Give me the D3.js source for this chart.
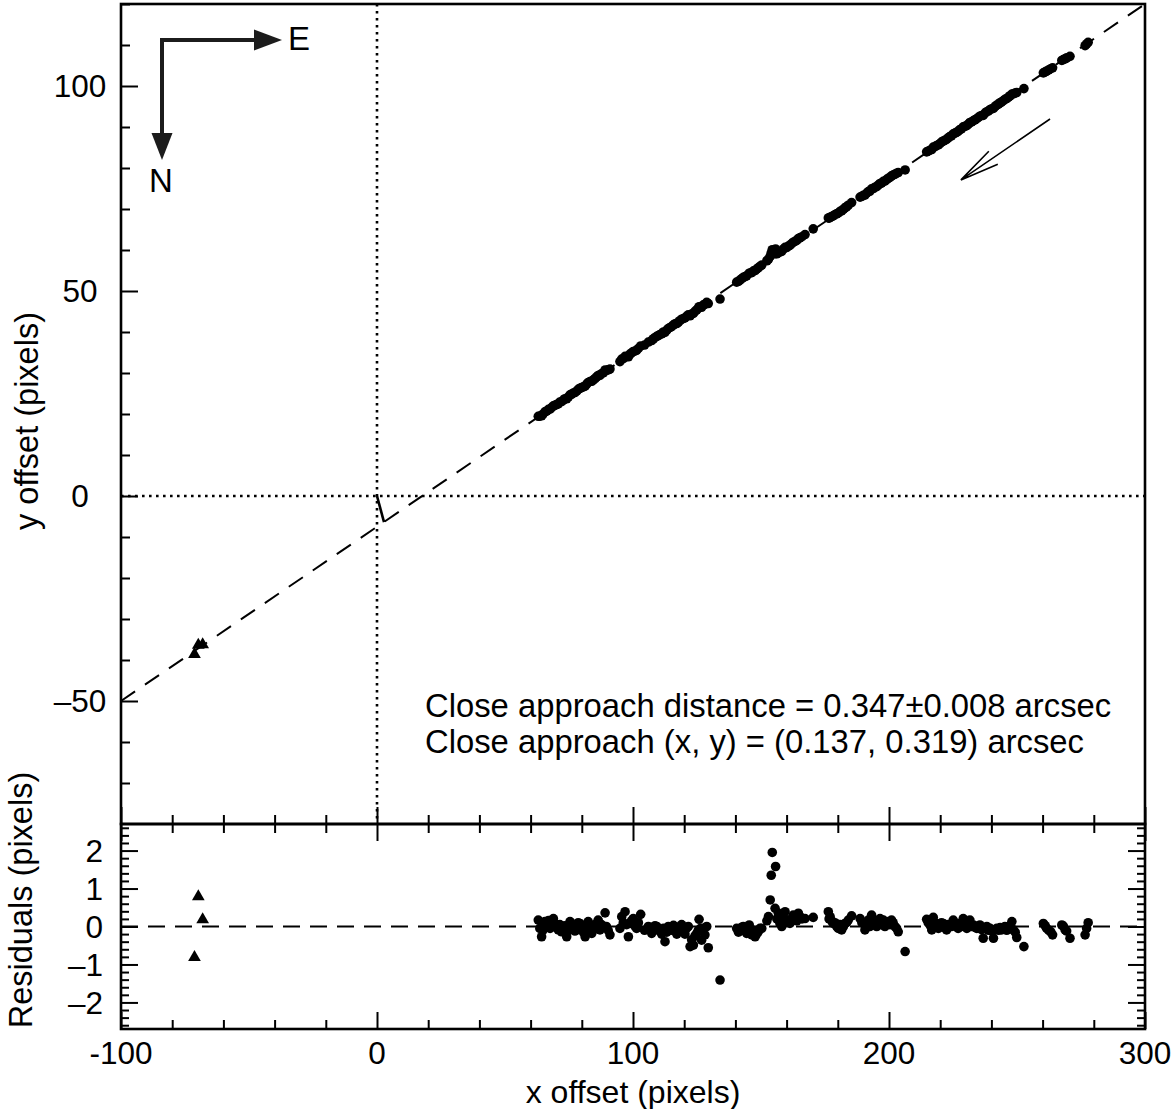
<!DOCTYPE html>
<html>
<head>
<meta charset="utf-8">
<script src="https://cdn.jsdelivr.net/npm/d3@7"></script>
<style>
  body { margin: 0; background: #fff; }
  svg text { font-family: "Liberation Sans", Arial, Helvetica, sans-serif; fill: #000; }
</style>
</head>
<body>
<svg id="chart"></svg>
<script>
const width = 1176, height = 1109;

// fitted track: y = slope * x + intercept (pixels)
const fitSlope = 0.425;
const fitIntercept = -7.5;
const closeApproach = [2.74, -6.38]; // foot of perpendicular from the origin

// circles: x offset and residual (pixels)
const dotX = [
  63.0, 63.6, 64.3, 64.8, 65.6, 66.3, 67.0, 67.6, 68.3, 68.9, 69.5, 70.2, 70.8, 71.4, 72.1, 72.8, 73.4, 74.1, 74.8, 75.4,
  76.0, 76.7, 77.3, 78.0, 78.6, 79.3, 79.9, 80.6, 81.3, 81.9, 82.5, 83.2, 83.9, 84.5, 85.2, 85.8, 86.4, 87.1, 87.7, 88.4,
  89.1, 89.6, 90.3, 91.0,
  94.9, 95.6, 96.2, 96.9, 97.5, 98.2, 98.8, 99.4, 100.1, 100.7, 101.4, 102.1, 103.0, 104.5, 106.0, 107.3, 108.0, 108.6, 109.3, 109.9,
  110.5, 111.2, 111.9, 112.5, 113.2, 113.8, 114.5, 115.1, 115.8, 116.4, 117.1, 117.7, 118.3, 119.0, 119.6, 120.3, 120.9, 121.6, 122.3, 122.9,
  123.6, 124.2, 124.9, 125.5, 125.8, 126.4, 126.8, 127.5, 128.1, 128.8, 129.4,
  134.0,
  140.5, 141.2, 141.8, 142.5, 143.1, 143.8, 144.4, 145.4, 146.0, 146.4, 147.1, 147.7, 148.3, 148.9, 149.6, 150.3,
  152.3, 152.9, 153.6, 154.0, 154.4, 155.5, 155.7, 156.2, 156.8, 157.4, 158.1, 158.7, 159.4, 160.0, 160.7, 161.3, 162.0, 162.6, 163.3, 164.0,
  164.6, 165.2, 166.0, 167.2, 170.4,
  176.3, 176.6, 177.0, 177.6, 178.2, 178.9, 179.6, 180.2, 180.9, 181.5, 182.2, 182.8, 183.4, 184.1, 185.4, 188.7, 189.4, 190.0, 190.6, 191.3,
  191.9, 192.5, 193.2, 193.9, 194.5, 195.2, 195.8, 196.5, 197.1, 197.8, 198.4, 199.1, 199.7, 200.4, 201.0, 201.6, 202.3, 203.0, 203.6, 206.3,
  214.7, 215.3, 216.0, 216.7, 217.3, 218.0, 218.6, 219.3, 219.9, 220.5, 221.2, 221.8, 222.5, 223.1, 223.8, 224.4, 225.1, 225.8, 226.4, 227.0,
  227.7, 228.3, 229.0, 229.7, 230.4, 231.0, 231.6, 232.3, 233.0, 233.6, 234.3, 234.9, 235.5, 236.2, 236.8, 237.5, 238.2, 238.8, 239.5, 240.2,
  240.8, 241.5, 242.1, 242.8, 243.4, 244.0, 244.7, 245.3, 246.0, 246.7, 247.3, 248.0, 248.6, 249.3, 249.9, 252.7,
  260.3, 261.0, 261.6, 262.4, 263.2, 263.9, 267.5, 268.1, 268.8, 269.4, 270.7, 276.6, 277.2, 277.8
];
const dotRes = [
  0.17, -0.05, -0.27, -0.10, 0.13, 0.05, 0.16, -0.05, 0.10, 0.21, 0.08, -0.02, -0.09, 0.05, -0.14, -0.05, 0.02, -0.27, -0.10, 0.13,
  0.02, 0.04, -0.12, -0.09, 0.10, 0.08, -0.02, -0.15, -0.27, 0.00, 0.13, 0.05, -0.18, -0.08, -0.05, 0.08, 0.17, -0.09, 0.05, -0.02,
  0.36, 0.00, -0.10, -0.22,
  -0.05, 0.26, 0.10, 0.39, 0.05, -0.27, 0.08, 0.15, 0.21, 0.02, -0.05, 0.10, 0.32, -0.10, 0.00, -0.18, -0.05, 0.02, 0.00, -0.10,
  -0.09, -0.20, -0.05, -0.40, -0.15, 0.00, -0.05, -0.10, 0.03, 0.00, -0.20, -0.14, -0.02, 0.05, -0.09, -0.20, -0.05, 0.00, -0.53, -0.35,
  -0.49, -0.25, -0.18, -0.10, 0.19, -0.05, -0.36, -0.05, -0.22, 0.00, -0.56,
  -1.41,
  -0.05, -0.15, -0.09, -0.02, 0.00, -0.12, -0.18, 0.04, -0.10, -0.22, -0.10, -0.27, -0.20, -0.14, -0.05, -0.05,
  0.15, 0.26, 0.70, 1.35, 1.95, 0.48, 1.58, 0.20, 0.35, 0.08, 0.00, 0.26, 0.39, 0.10, 0.17, 0.08, 0.20, 0.30, 0.22, 0.15,
  0.35, 0.26, 0.20, 0.21, 0.24,
  0.39, 0.20, 0.26, 0.15, 0.08, 0.10, 0.00, -0.05, 0.05, -0.09, 0.00, 0.08, 0.10, 0.17, 0.28, 0.21, 0.10, 0.08, -0.09, 0.05,
  0.17, 0.00, 0.30, 0.08, 0.15, 0.00, 0.10, 0.21, 0.05, 0.17, 0.00, 0.08, 0.13, 0.05, 0.17, 0.10, 0.00, -0.05, -0.14, -0.66,
  0.19, 0.10, 0.04, -0.09, 0.24, 0.05, 0.08, -0.05, 0.00, 0.10, 0.08, -0.03, -0.09, 0.05, 0.04, 0.00, 0.17, 0.05, 0.00, -0.05,
  0.08, 0.00, 0.21, 0.05, -0.05, 0.02, 0.17, 0.00, 0.04, -0.02, -0.05, 0.00, 0.04, -0.08, -0.31, -0.05, 0.00, -0.10, -0.05, -0.12,
  -0.31, -0.08, -0.05, -0.10, -0.03, -0.09, -0.05, 0.00, -0.10, -0.05, 0.02, 0.13, -0.09, -0.15, -0.29, -0.53,
  0.08, 0.02, -0.05, -0.10, -0.14, -0.22, 0.04, 0.01, -0.09, -0.12, -0.31, -0.22, -0.05, 0.10
];

// triangles: x offset and residual (pixels)
const triX = [-71.3, -69.8, -68.1];
const triRes = [-0.81, 0.79, 0.18];

// axis ticks
const xMajor = [-100, 0, 100, 200, 300];
const xLabels = ["-100", "0", "100", "200", "300"];
const yMajor = [-50, 0, 50, 100];
const yLabels = ["\u201350", "0", "50", "100"];
const resMajor = [-2, -1, 0, 1, 2];
const resLabels = ["\u20132", "\u20131", "0", "1", "2"];

const noteLines = [
  "Close approach distance = 0.347\u00b10.008 arcsec",
  "Close approach (x, y) = (0.137, 0.319) arcsec"
];

const pLeft = 121, pRight = 1145, pTop = 4, pMid = 824, pBottom = 1029;

const x = d3.scaleLinear().domain([-100, 300]).range([pLeft, pRight]);
const y = d3.scaleLinear().domain([-80, 120]).range([pMid, pTop]);
const yr = d3.scaleLinear().domain([-2.7, 2.7]).range([pBottom, pMid]);

const fit = xx => fitSlope * xx + fitIntercept;

const svg = d3.select("#chart").attr("width", width).attr("height", height);

const xMinor = d3.range(-80, 300, 20).filter(v => v % 100 !== 0);
const yMinor = d3.range(-70, 121, 10).filter(v => v % 50 !== 0);
const resMinor = d3.range(-26, 27, 2).map(v => v / 10).filter(v => Math.abs(v % 1) > 0.01);

function tickAxis(axis, tx, ty, size, values) {
  const g = svg.append("g")
    .attr("transform", `translate(${tx},${ty})`)
    .call(axis.tickValues(values).tickSize(size).tickFormat(""));
  g.select(".domain").remove();
  g.selectAll("line").attr("stroke", "#000").attr("stroke-width", 2);
  return g;
}

// reference lines through the origin
svg.append("line")
  .attr("x1", x(0)).attr("x2", x(0))
  .attr("y1", pTop).attr("y2", pMid)
  .attr("stroke", "#000").attr("stroke-width", 2.6).attr("stroke-dasharray", "2.6,4.4");
svg.append("line")
  .attr("x1", pLeft).attr("x2", pRight)
  .attr("y1", y(0)).attr("y2", y(0))
  .attr("stroke", "#000").attr("stroke-width", 2.6).attr("stroke-dasharray", "2.6,4.4");

// fitted track
svg.append("line")
  .attr("x1", x(-100)).attr("y1", y(fit(-100)))
  .attr("x2", x(300)).attr("y2", y(fit(300)))
  .attr("stroke", "#000").attr("stroke-width", 2).attr("stroke-dasharray", "17,12");

// close approach segment
svg.append("line")
  .attr("x1", x(0)).attr("y1", y(0))
  .attr("x2", x(closeApproach[0])).attr("y2", y(closeApproach[1]))
  .attr("stroke", "#000").attr("stroke-width", 2.6);

// residual zero line
svg.append("line")
  .attr("x1", pLeft).attr("x2", pRight)
  .attr("y1", yr(0)).attr("y2", yr(0))
  .attr("stroke", "#000").attr("stroke-width", 2).attr("stroke-dasharray", "17,10");

const dots = dotX.map((d, i) => ({ x: d, r: dotRes[i] }));
const tris = triX.map((d, i) => ({ x: d, r: triRes[i] }));

// measured positions
svg.append("g").selectAll("circle")
  .data(dots)
  .join("circle")
  .attr("cx", d => x(d.x))
  .attr("cy", d => y(fit(d.x) + d.r))
  .attr("r", 4.8)
  .attr("fill", "#000");

const tri = d3.symbol().type(d3.symbolTriangle).size(70);
svg.append("g").selectAll("path")
  .data(tris)
  .join("path")
  .attr("transform", d => `translate(${x(d.x)},${y(fit(d.x) + d.r)})`)
  .attr("d", tri)
  .attr("fill", "#000");

// residuals
svg.append("g").selectAll("circle")
  .data(dots)
  .join("circle")
  .attr("cx", d => x(d.x))
  .attr("cy", d => yr(d.r))
  .attr("r", 4.8)
  .attr("fill", "#000");

svg.append("g").selectAll("path")
  .data(tris)
  .join("path")
  .attr("transform", d => `translate(${x(d.x)},${yr(d.r)})`)
  .attr("d", tri)
  .attr("fill", "#000");

// ticks (all pointing inward)
tickAxis(d3.axisLeft(y), pLeft, 0, -17, yMajor);
tickAxis(d3.axisLeft(y), pLeft, 0, -9, yMinor);
tickAxis(d3.axisBottom(x), 0, pMid, -17, xMajor);
tickAxis(d3.axisBottom(x), 0, pMid, -9, xMinor);
tickAxis(d3.axisTop(x), 0, pMid, -17, xMajor);
tickAxis(d3.axisTop(x), 0, pMid, -9, xMinor);
tickAxis(d3.axisBottom(x), 0, pBottom, -17, xMajor);
tickAxis(d3.axisBottom(x), 0, pBottom, -9, xMinor);
tickAxis(d3.axisLeft(yr), pLeft, 0, -17, resMajor);
tickAxis(d3.axisLeft(yr), pLeft, 0, -8, resMinor);
tickAxis(d3.axisRight(yr), pRight, 0, -17, resMajor);
tickAxis(d3.axisRight(yr), pRight, 0, -8, resMinor);

// frames
svg.append("rect")
  .attr("x", pLeft).attr("y", pTop)
  .attr("width", pRight - pLeft).attr("height", pMid - pTop)
  .attr("fill", "none").attr("stroke", "#000").attr("stroke-width", 2.6);
svg.append("rect")
  .attr("x", pLeft).attr("y", pMid)
  .attr("width", pRight - pLeft).attr("height", pBottom - pMid)
  .attr("fill", "none").attr("stroke", "#000").attr("stroke-width", 2.6);

// tick labels
svg.append("g").selectAll("text")
  .data(yMajor)
  .join("text")
  .attr("x", 80)
  .attr("y", d => y(d))
  .attr("dy", "0.36em")
  .attr("text-anchor", "middle")
  .attr("font-size", 31.5)
  .text((d, i) => yLabels[i]);

svg.append("g").selectAll("text")
  .data(resMajor)
  .join("text")
  .attr("x", 103)
  .attr("y", d => yr(d))
  .attr("dy", "0.36em")
  .attr("text-anchor", "end")
  .attr("font-size", 31.5)
  .text((d, i) => resLabels[i]);

svg.append("g").selectAll("text")
  .data(xMajor)
  .join("text")
  .attr("x", d => x(d))
  .attr("y", 1064)
  .attr("text-anchor", "middle")
  .attr("font-size", 31.5)
  .text((d, i) => xLabels[i]);

// axis titles
svg.append("text")
  .attr("x", (pLeft + pRight) / 2)
  .attr("y", 1103)
  .attr("text-anchor", "middle")
  .attr("font-size", 32)
  .text("x offset (pixels)");

svg.append("text")
  .attr("transform", `translate(38,${(pTop + pMid) / 2 + 7}) rotate(-90)`)
  .attr("text-anchor", "middle")
  .attr("font-size", 32.5)
  .text("y offset (pixels)");

svg.append("text")
  .attr("transform", `translate(32,900) rotate(-90)`)
  .attr("text-anchor", "middle")
  .attr("font-size", 32.5)
  .text("Residuals  (pixels)");

// annotation
svg.append("g").selectAll("text")
  .data(noteLines)
  .join("text")
  .attr("x", 425)
  .attr("y", (d, i) => 717 + i * 36)
  .attr("font-size", 32.8)
  .text(d => d);

// compass
const compass = svg.append("g").attr("fill", "#1c1c1c").attr("stroke", "#1c1c1c");
compass.append("path")
  .attr("d", "M162,40 H256 M162,38 V135")
  .attr("fill", "none").attr("stroke-width", 4);
compass.append("path")
  .attr("d", "M254,29.5 L282,40 L254,50.5 Z").attr("stroke", "none");
compass.append("path")
  .attr("d", "M151.5,133 L162,160 L172.5,133 Z").attr("stroke", "none");
svg.append("text").attr("x", 288).attr("y", 50).attr("font-size", 33).text("E");
svg.append("text").attr("x", 161).attr("y", 192).attr("text-anchor", "middle").attr("font-size", 33).text("N");

// direction of motion
const a0 = [x(262.9), y(91.95)], a1 = [x(228.1), y(77.1)];
const ang = Math.atan2(a0[1] - a1[1], a0[0] - a1[0]);
const barb = s => [a1[0] + 40 * Math.cos(ang + s), a1[1] + 40 * Math.sin(ang + s)];
svg.append("path")
  .attr("d", `M${a0} L${a1} M${barb(0.2)} L${a1} L${barb(-0.2)}`)
  .attr("fill", "none").attr("stroke", "#000").attr("stroke-width", 1.6);
</script>
</body>
</html>
